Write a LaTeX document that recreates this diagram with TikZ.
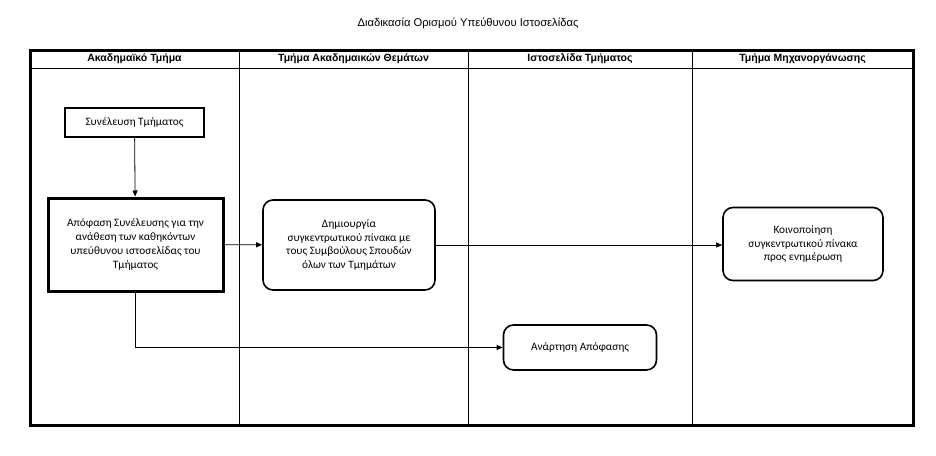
\documentclass[tikz,border=0pt]{standalone}
\usepackage{fontspec}
\setmainfont{Carlito}
\newfontfamily\hdfont{Liberation Sans}
\usepackage{tikz}
\usetikzlibrary{positioning, arrows.meta}

\begin{document}
\begin{tikzpicture}[x=1pt, y=-1pt,
  act/.style={draw, align=center, font=\fontsize{11.3}{13.8}\selectfont, inner sep=2pt},
  sq/.style={act, line width=2.6pt},
  rnd/.style={act, rounded corners=10pt, line width=1.6pt},
  lane/.style={font=\hdfont\bfseries\fontsize{10.5}{12}\selectfont},
  flow/.style={-{Triangle[length=6pt, width=5pt]}, line width=0.8pt}]
\useasboundingbox (0,0) rectangle (936,455);
\node[font=\hdfont\fontsize{11.2}{13}\selectfont] (title) at (468,23) {Διαδικασία Ορισμού Υπεύθυνου Ιστοσελίδας};
% swimlanes
\draw[line width=0.8pt] (30,68) -- (913,68);
\foreach \x in {239, 468, 692}
  \draw[line width=0.8pt] (\x,50) -- (\x,425);
\draw[line width=3pt] (30,50) rectangle (913,425);
\node[lane] (l1) at (134.5,59) {Ακαδημαϊκό Τμήμα};
\node[lane] (l2) at (353.5,59) {Τμήμα Ακαδημαικών Θεμάτων};
\node[lane] (l3) at (580,59) {Ιστοσελίδα Τμήματος};
\node[lane] (l4) at (802.5,59) {Τμήμα Μηχανοργάνωσης};
% activities
\node[sq, minimum width=139pt, minimum height=29pt] (sun) at (134.5,122.5) {Συνέλευση Τμήματος};
\node[sq, line width=3pt, minimum width=175pt, minimum height=93pt] (apof) at (135.5,244.5)
  {Απόφαση Συνέλευσης για την\\ανάθεση των καθηκόντων\\υπεύθυνου ιστοσελίδας του\\Τμήματος};
\node[rnd, minimum width=172pt, minimum height=90pt] (dimi) at (349,245)
  {Δημιουργία\\συγκεντρωτικού πίνακα με\\τους Συμβούλους Σπουδών\\όλων των Τμημάτων};
\node[rnd, minimum width=160pt, minimum height=73pt] (koin) at (803,244)
  {Κοινοποίηση\\συγκεντρωτικού πίνακα\\προς ενημέρωση};
\node[rnd, minimum width=153pt, minimum height=45pt] (anar) at (580,347.5) {Ανάρτηση Απόφασης};
% connectors
\draw[flow] (sun) -- (apof);
\draw[flow] (apof) -- (dimi);
\draw[flow] (dimi.east) -- (dimi.east -| koin.west);
\draw[flow] (apof.south) |- (anar.west);
\end{tikzpicture}
\end{document}
